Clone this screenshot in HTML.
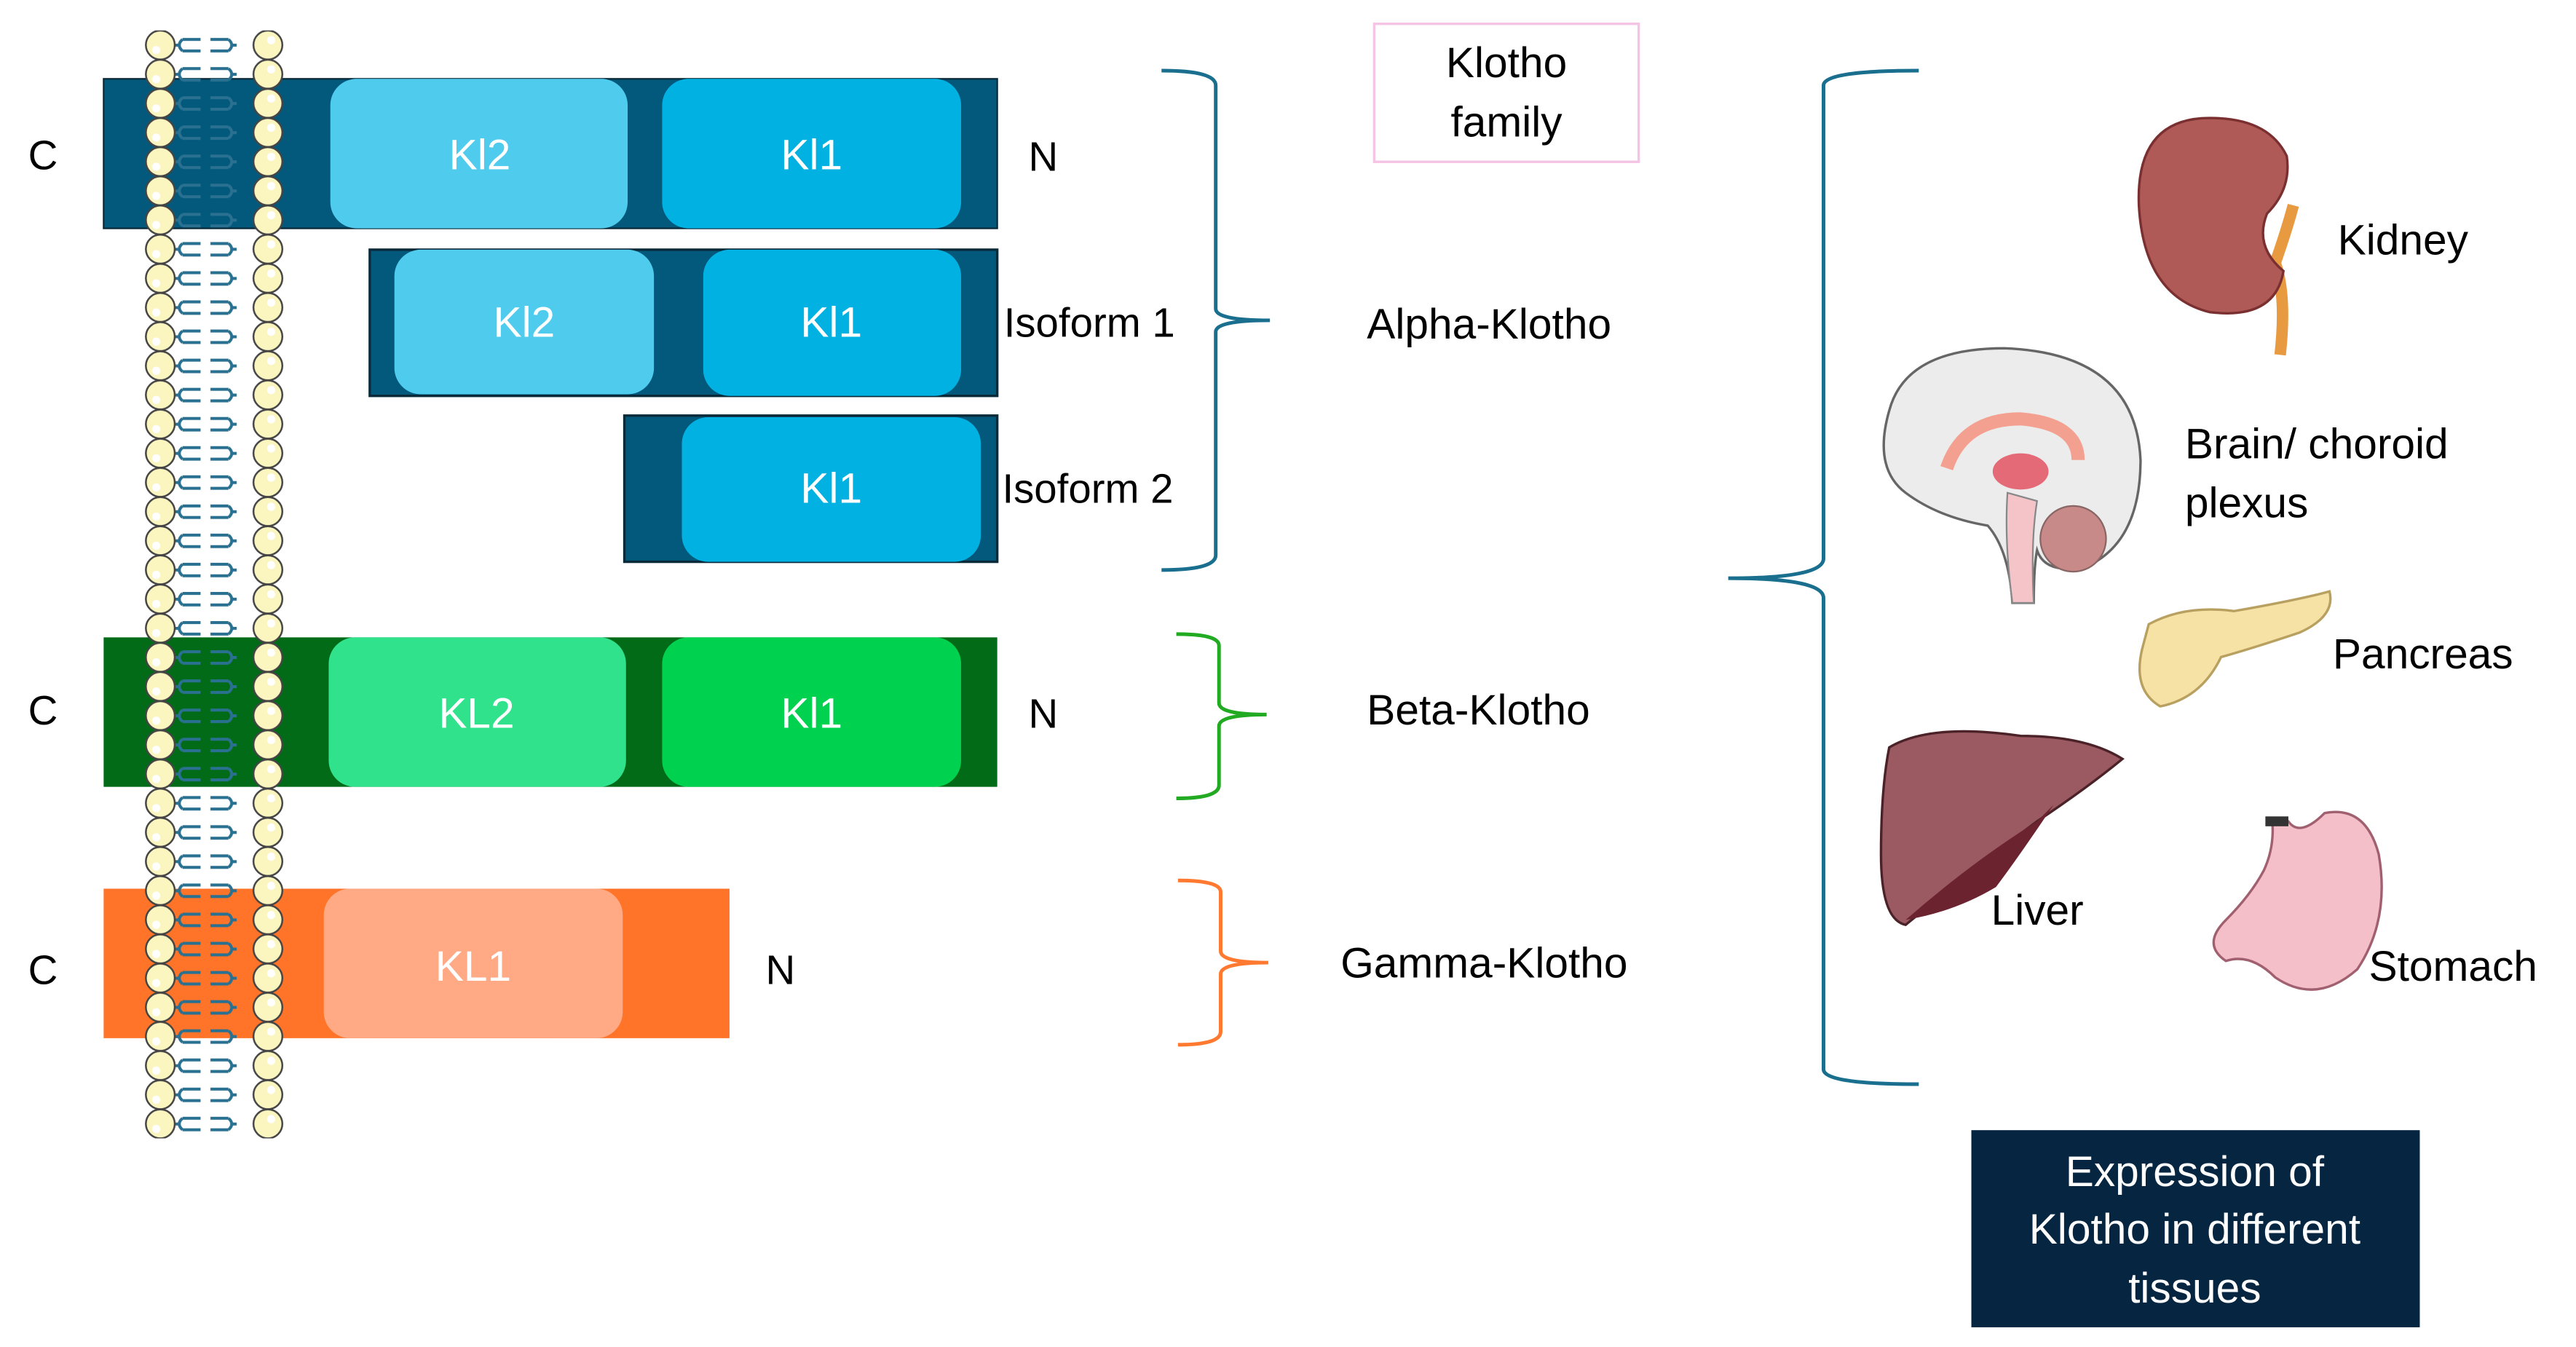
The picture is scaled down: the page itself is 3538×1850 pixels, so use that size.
<!DOCTYPE html>
<html><head><meta charset="utf-8"><style>
html,body{margin:0;padding:0;background:#fff}
svg{display:block}
text{font-family:"Liberation Sans",sans-serif}
</style></head><body>
<svg width="3538" height="1850" viewBox="0 0 1568 820" xmlns="http://www.w3.org/2000/svg">
<defs>
<pattern id="mem" x="87" y="18.5" width="90" height="17.75" patternUnits="userSpaceOnUse">
  <g stroke="#2a7090" stroke-width="1.8" fill="none">
    <path d="M19 9 h4 M24 5.5 q-4 3.5 0 7 M24 5.5 h11 M24 12.5 h11"/>
    <path d="M57 9 h-4 M52 5.5 q4 3.5 0 7 M52 5.5 h-11 M52 12.5 h-11"/>
  </g>
  <ellipse cx="10.5" cy="8.9" rx="8.8" ry="8.8" fill="#fbf5c0" stroke="#444" stroke-width="1.1"/>
  <ellipse cx="76" cy="8.9" rx="8.8" ry="8.8" fill="#fbf5c0" stroke="#444" stroke-width="1.1"/>
  <circle cx="8" cy="12" r="2.5" fill="#fff"/>
  <circle cx="78" cy="6" r="2.5" fill="#fff"/>
</pattern>
</defs>

<rect x="63" y="48" width="544" height="91" fill="#03597c" stroke="#0a2a3a" stroke-width="1"/>
<rect x="201" y="48" width="181" height="91" rx="16" fill="#4ecbed"/>
<rect x="403" y="48" width="182" height="91" rx="16" fill="#00b1e1"/>
<rect x="225" y="152" width="382" height="89" fill="#03597c" stroke="#0a2a3a" stroke-width="1.5"/>
<rect x="240" y="152" width="158" height="88" rx="16" fill="#4ecbed"/>
<rect x="428" y="152" width="157" height="89" rx="16" fill="#00b1e1"/>
<rect x="380" y="253" width="227" height="89" fill="#03597c" stroke="#0a2a3a" stroke-width="1.5"/>
<rect x="415" y="254" width="182" height="88" rx="16" fill="#00b1e1"/>
<rect x="63" y="388" width="544" height="91" fill="#016b18"/>
<rect x="200" y="388" width="181" height="91" rx="16" fill="#30e28c"/>
<rect x="403" y="388" width="182" height="91" rx="16" fill="#00d24f"/>
<rect x="63" y="541" width="381" height="91" fill="#ff7428"/>
<rect x="197" y="541" width="182" height="91" rx="16" fill="#ffa985"/>

<rect x="87" y="18.5" width="90" height="674.5" fill="url(#mem)"/>

<g font-size="26" fill="#fff" text-anchor="middle">
<text x="292" y="103">Kl2</text><text x="494" y="103">Kl1</text>
<text x="319" y="205">Kl2</text><text x="506" y="205">Kl1</text>
<text x="506" y="306">Kl1</text>
<text x="290" y="443">KL2</text><text x="494" y="443">Kl1</text>
<text x="288" y="597">KL1</text>
</g>
<g font-size="25" fill="#000">
<text x="17" y="103">C</text><text x="17" y="441">C</text><text x="17" y="599">C</text>
<text x="626" y="104">N</text><text x="626" y="443">N</text><text x="466" y="599">N</text>
<text x="611" y="205">Isoform 1</text><text x="610" y="306">Isoform 2</text>
</g>

<g fill="none" stroke-width="2.2">
<path d="M707 43 Q740 43 740 52 V188 Q740 195 773 195 Q740 195 740 202 V338 Q740 347 707 347" stroke="#1a6f8f"/>
<path d="M716 386 Q742 386 742 393 V428 Q742 435 771 435 Q742 435 742 442 V478 Q742 486 716 486" stroke="#22aa22"/>
<path d="M717 536 Q743 536 743 543 V579 Q743 586 772 586 Q743 586 743 593 V628 Q743 636 717 636" stroke="#ff7a30"/>
<path d="M1168 43 Q1110 43 1110 52 V340 Q1110 352 1052 352 Q1110 352 1110 364 V651 Q1110 660 1168 660" stroke="#1a6f8f"/>
</g>

<rect x="836.5" y="14.5" width="161" height="84" fill="#fff" stroke="#f5c4e4" stroke-width="1.5"/>
<g font-size="26" fill="#000" text-anchor="middle">
<text x="917" y="47">Klotho</text><text x="917" y="83">family</text>
</g>
<g font-size="26" fill="#000">
<text x="832" y="206">Alpha-Klotho</text>
<text x="832" y="441">Beta-Klotho</text>
<text x="816" y="595">Gamma-Klotho</text>
<text x="1423" y="155">Kidney</text>
<text x="1330" y="279">Brain/ choroid</text>
<text x="1330" y="315">plexus</text>
<text x="1420" y="407">Pancreas</text>
<text x="1212" y="563">Liver</text>
<text x="1442" y="597">Stomach</text>
</g>

<path d="M1388 216 Q1392 180 1385 160 Q1392 140 1396 125" stroke="#e89a40" stroke-width="7" fill="none"/>
<path d="M1340 72 Q1300 75 1302 125 Q1305 180 1345 190 Q1385 195 1390 165 Q1372 150 1380 130 Q1395 115 1392 95 Q1380 70 1340 72Z" fill="#b05a58" stroke="#7a3030" stroke-width="1.5"/>
<path d="M1150 250 Q1160 212 1220 212 Q1300 215 1303 280 Q1303 330 1270 345 Q1245 350 1240 335 Q1238 345 1238 367 H1225 Q1223 335 1210 320 Q1180 315 1160 300 Q1140 285 1150 250Z" fill="#ececec" stroke="#666" stroke-width="1.5"/>
<path d="M1185 285 Q1195 255 1230 255 Q1265 258 1265 280" stroke="#f4a090" stroke-width="8" fill="none"/>
<ellipse cx="1230" cy="287" rx="17" ry="11" fill="#e56a78"/>
<path d="M1222 300 Q1220 330 1225 367 H1238 Q1236 330 1240 305Z" fill="#f4c4c8" stroke="#888"/>
<circle cx="1262" cy="328" r="20" fill="#c88a88" stroke="#866" />
<path d="M1308 380 Q1330 368 1360 372 Q1400 365 1418 360 Q1422 375 1400 385 Q1370 395 1352 400 Q1340 425 1315 430 Q1298 420 1304 395Z" fill="#f7e2a6" stroke="#b8a060" stroke-width="1.5"/>
<path d="M1150 455 Q1175 440 1230 448 Q1270 448 1292 462 Q1270 480 1240 500 Q1200 530 1160 563 Q1145 560 1145 520 Q1145 480 1150 455Z" fill="#9b5a62" stroke="#4a2228" stroke-width="1.5"/>
<path d="M1160 560 Q1200 525 1240 500 L1250 490 Q1230 520 1215 540 Q1190 555 1160 560Z" fill="#6c2330"/>
<path d="M1383 498 Q1385 515 1378 530 Q1370 545 1355 560 Q1340 575 1355 585 Q1370 580 1385 595 Q1410 612 1435 590 Q1455 560 1448 520 Q1440 490 1415 495 Q1400 510 1393 500Z" fill="#f4bfc8" stroke="#a06070" stroke-width="1.5"/>
<rect x="1379" y="497" width="14" height="6" fill="#333"/>

<rect x="1200" y="688" width="273" height="120" fill="#062540"/>
<g font-size="26" fill="#fff" text-anchor="middle">
<text x="1336" y="722">Expression of</text>
<text x="1336" y="757">Klotho in different</text>
<text x="1336" y="793">tissues</text>
</g>
</svg>
</body></html>
